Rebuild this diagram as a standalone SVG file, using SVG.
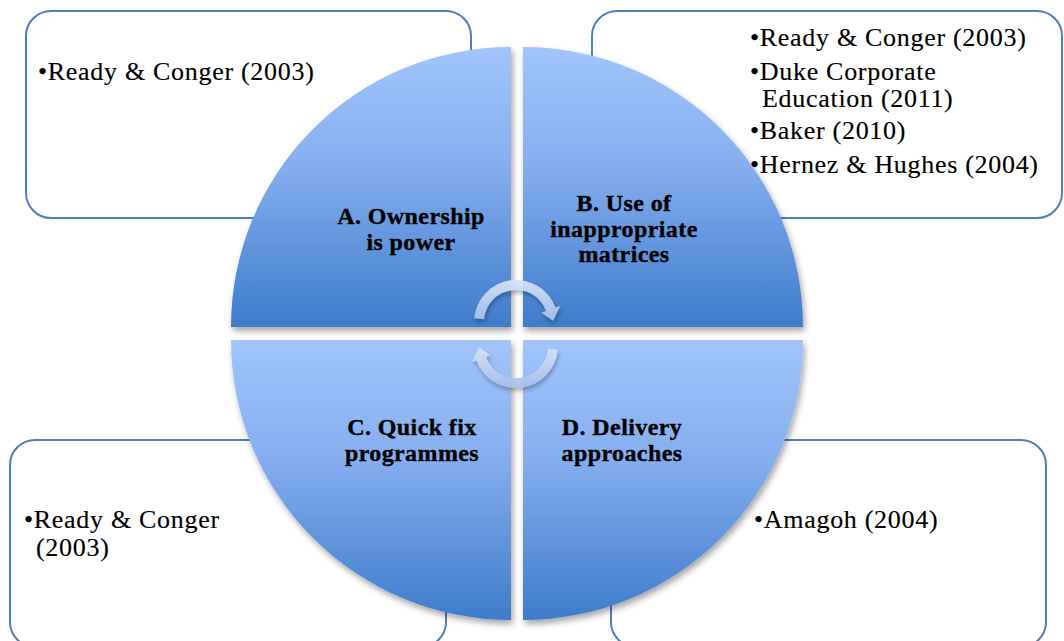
<svg xmlns="http://www.w3.org/2000/svg" width="1064" height="641" viewBox="0 0 1064 641">
<defs>
<linearGradient id="qg" x1="0" y1="0" x2="0" y2="1">
<stop offset="0" stop-color="#a1c5fb"/>
<stop offset="0.4" stop-color="#87b0f0"/>
<stop offset="1" stop-color="#3e7ccb"/>
</linearGradient>
<linearGradient id="ag" x1="0" y1="0" x2="0" y2="1">
<stop offset="0" stop-color="#d6e3f7"/>
<stop offset="1" stop-color="#a6bfe8"/>
</linearGradient>
<filter id="sh" x="-10%" y="-10%" width="125%" height="125%">
<feDropShadow dx="2" dy="4" stdDeviation="3" flood-color="#000" flood-opacity="0.35"/>
</filter>
<filter id="ash" x="-30%" y="-30%" width="160%" height="160%">
<feDropShadow dx="1" dy="3" stdDeviation="2" flood-color="#000" flood-opacity="0.3"/>
</filter>
</defs>
<style>
.box{fill:#fff;stroke:#4f7fbf;stroke-width:2}
.bt{font-family:"Liberation Serif","Times New Roman",serif;font-size:26px;fill:#000;letter-spacing:0.7px;stroke:#000;stroke-width:0.15}
.q{fill:url(#qg);filter:url(#sh)}
.lb{font-family:"Liberation Serif","Times New Roman",serif;font-size:24px;font-weight:bold;fill:#000;stroke:#000;stroke-width:0.35;text-anchor:middle;letter-spacing:0.4px}
.arr{fill:url(#ag);filter:url(#ash);opacity:0.95}
</style>
<rect width="1064" height="641" fill="#fff"/>
<g id="box-a">
<rect class="box" x="26" y="11" width="445" height="207" rx="25"/>
<text class="bt" x="38" y="80">•Ready &amp; Conger (2003)</text>
</g>
<g id="box-b">
<rect class="box" x="592" y="11" width="470" height="207" rx="25"/>
<text class="bt" x="750" y="46">•Ready &amp; Conger (2003)</text>
<text class="bt" x="750" y="80">•Duke Corporate</text>
<text class="bt" x="762" y="107">Education (2011)</text>
<text class="bt" x="750" y="139">•Baker (2010)</text>
<text class="bt" x="750" y="173">•Hernez &amp; Hughes (2004)</text>
</g>
<g id="box-c">
<rect class="box" x="10" y="440" width="436" height="207" rx="25"/>
<text class="bt" x="24" y="528">•Ready &amp; Conger</text>
<text class="bt" x="36" y="556">(2003)</text>
</g>
<g id="box-d">
<rect class="box" x="611" y="440" width="435" height="207" rx="25"/>
<text class="bt" x="754" y="528">•Amagoh (2004)</text>
</g>
<g id="quad-a">
<path class="q" d="M511,327 L231,327 A280,280 0 0 1 511,47 Z"/>
<text class="lb" x="411" y="224">A. Ownership</text>
<text class="lb" x="411" y="250">is power</text>
</g>
<g id="quad-b">
<path class="q" d="M523,327 L523,47 A280,280 0 0 1 803,327 Z"/>
<text class="lb" x="624" y="211">B. Use of</text>
<text class="lb" x="624" y="237">inappropriate</text>
<text class="lb" x="624" y="262">matrices</text>
</g>
<g id="quad-c">
<path class="q" d="M511,340 L511,620 A280,280 0 0 1 231,340 Z"/>
<text class="lb" x="412" y="435">C. Quick fix</text>
<text class="lb" x="412" y="461">programmes</text>
</g>
<g id="quad-d">
<path class="q" d="M523,340 L803,340 A280,280 0 0 1 523,620 Z"/>
<text class="lb" x="622" y="435">D. Delivery</text>
<text class="lb" x="622" y="461">approaches</text>
</g>
<g id="connectors">
<path class="arr" d="M474.2,318.3 A42,42 0 0 1 555.5,307.6 L560.2,305.9 L553.0,320.7 L541.4,312.8 L546.1,311.1 A32,32 0 0 0 484.1,319.2 Z"/>
<path class="arr" d="M557.8,349.7 A42,42 0 0 1 476.5,360.4 L471.8,362.1 L479.0,347.3 L490.6,355.2 L485.9,356.9 A32,32 0 0 0 547.9,348.8 Z"/>
</g>
</svg>
